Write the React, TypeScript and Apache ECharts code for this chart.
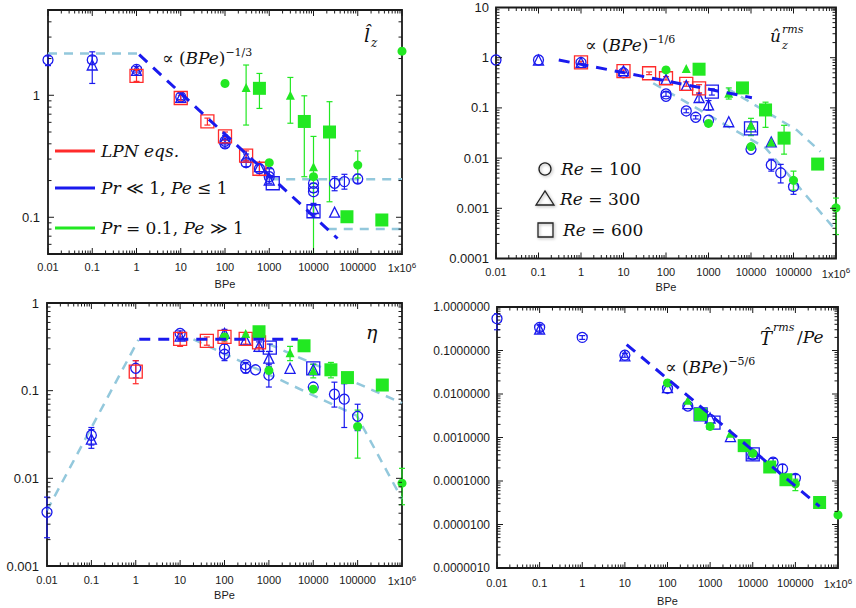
import { useEffect, useRef } from 'react';
import * as echarts from 'echarts';

// ---------------- colours / fonts ----------------
const BLUE = '#1a1aee';
const RED = '#ff2b2b';
const GREEN = '#22e822';
const LIGHT = '#93c8dc';
const INK = '#1a1a1a';
const MATH = '"DejaVu Serif", "Liberation Serif", serif';
const SANS = '"Liberation Sans", Arial, Helvetica, sans-serif';

// ---------------- axis range (BPe) ----------------
const X_MIN = 0.01;
const X_MAX = 1e6;

// ---------------- data rows: [BPe, value, errLow, errHigh] ----------------
// Panel 1: l_z
const lzLpn = [[1, 1.44, 1.3, 1.6], [10, 0.95, 0.9, 1.0], [40, 0.61, 0.57, 0.65], [100, 0.46, 0.43, 0.5], [300, 0.32, 0.29, 0.35], [600, 0.25, 0.22, 0.28]];
const lzRe100 = [[0.01, 1.95, 1.75, 2.1], [0.1, 1.95, 1.8, 2.1], [1, 1.63, 1.55, 1.72], [10, 0.97, 0.92, 1.04], [100, 0.42, null, null], [100, 0.4, 0.37, 0.43], [300, 0.28, 0.26, 0.3], [600, 0.25, 0.23, 0.27], [1000, 0.234, 0.22, 0.25], [1000, 0.215, null, null], [10000, 0.19, null, null], [10000, 0.174, 0.16, 0.19], [10000, 0.162, null, null], [30000, 0.19, 0.165, 0.215], [50000, 0.196, 0.17, 0.225], [100000, 0.206, 0.19, 0.225]];
const lzRe300 = [[0.1, 1.77, 1.25, 2.27], [1, 1.6, null, null], [10, 0.96, null, null], [100, 0.44, 0.41, 0.47], [300, 0.31, 0.29, 0.33], [600, 0.26, null, null], [1000, 0.202, 0.19, 0.215], [10000, 0.118, 0.105, 0.13], [30000, 0.11, null, null]];
const lzRe600 = [[1200, 0.19, null, null], [10000, 0.112, 0.1, 0.125]];
const lzG100 = [[100, 1.25, 1.18, 1.32], [1000, 0.28, null, null], [10000, 0.215, null, null], [100000, 0.268, 0.21, 0.35], [1e6, 2.3, null, null]];
const lzG300 = [[300, 1.16, 0.57, 1.77], [3000, 1.0, 0.59, 1.4], [10000, 0.26, 0.04, 0.46]];
const lzG600 = [[600, 1.14, 0.78, 1.51], [6200, 0.61, 0.215, 0.99], [23000, 0.5, 0.134, 0.886], [57000, 0.101, null, null], [350000, 0.095, null, null]];
const lzPower = [[1.15, 2.15], [35000, 0.067]];
const lzFits = [[[0.01, 2.2], [1.1, 2.2]], [[1050, 0.205], [1e6, 0.205]], [[21000, 0.08], [1e6, 0.08]]];

// Panel 2: u_z rms
const uzLpn = [[1, 0.81, 0.77, 0.85], [10, 0.54, 0.51, 0.57], [40, 0.49, 0.46, 0.52], [100, 0.39, 0.36, 0.42], [300, 0.3, 0.27, 0.33], [600, 0.245, 0.2, 0.29]];
const uzRe100 = [[0.01, 0.9, null, null], [0.1, 0.9, null, null], [1, 0.8, null, null], [10, 0.5, null, null], [100, 0.19, 0.17, 0.21], [100, 0.17, null, null], [300, 0.087, 0.08, 0.095], [500, 0.065, 0.06, 0.07], [1000, 0.057, null, null], [10000, 0.015, null, null], [30000, 0.0073, 0.0055, 0.0095], [50000, 0.0051, 0.0032, 0.0075], [100000, 0.0027, 0.0019, 0.0036]];
const uzRe300 = [[0.1, 0.9, null, null], [1, 0.8, null, null], [10, 0.55, null, null], [100, 0.37, null, null], [300, 0.28, null, null], [600, 0.16, 0.13, 0.19], [1000, 0.115, 0.09, 0.14], [3000, 0.053, null, null], [10000, 0.042, null, null], [30000, 0.021, null, null]];
const uzRe600 = [[1200, 0.21, 0.18, 0.24], [10000, 0.039, null, null]];
const uzG100 = [[100, 0.57, null, null], [1000, 0.049, null, null], [10000, 0.017, null, null], [100000, 0.0036, 0.0023, 0.0055], [1e6, 0.00102, 0.0003, 0.0016]];
const uzG300 = [[300, 0.61, null, null], [3000, 0.195, 0.15, 0.25], [10000, 0.045, 0.028, 0.062], [30000, 0.021, null, null]];
const uzG600 = [[600, 0.59, null, null], [6300, 0.25, null, null], [22000, 0.091, 0.041, 0.13], [60000, 0.025, 0.012, 0.045], [370000, 0.0076, null, null]];
const uzPower = [[0.3, 0.9], [10500, 0.16]];
const uzFits = [[[50, 0.31], [22000, 0.016], [1e6, 0.00036]], [[2750, 0.245], [120000, 0.036], [430000, 0.0135]]];

// Panel 3: eta
const etaLpn = [[1, 0.165, 0.12, 0.22], [10, 0.39, 0.32, 0.45], [40, 0.37, 0.33, 0.41], [100, 0.41, 0.36, 0.45], [300, 0.39, 0.34, 0.44], [600, 0.355, 0.31, 0.4]];
const etaRe100 = [[0.01, 0.0041, 0.0021, 0.0061], [0.1, 0.031, 0.024, 0.038], [1, 0.18, 0.14, 0.22], [10, 0.45, 0.41, 0.48], [100, 0.3, null, null], [100, 0.26, 0.22, 0.34], [300, 0.197, null, null], [300, 0.18, 0.16, 0.21], [500, 0.173, null, null], [1000, 0.15, 0.11, 0.2], [10000, 0.11, null, null], [30000, 0.091, 0.065, 0.125], [50000, 0.08, 0.038, 0.12], [100000, 0.051, 0.035, 0.07]];
const etaRe300 = [[0.1, 0.028, 0.022, 0.036], [10, 0.42, null, null], [100, 0.45, 0.4, 0.5], [300, 0.38, null, null], [600, 0.32, 0.28, 0.36], [1000, 0.235, 0.19, 0.28], [3000, 0.18, null, null], [10000, 0.175, null, null]];
const etaRe600 = [[1050, 0.31, 0.28, 0.34], [10000, 0.18, 0.16, 0.2]];
const etaG100 = [[100, 0.41, null, null], [1000, 0.17, null, null], [10000, 0.104, null, null], [100000, 0.039, 0.017, 0.06], [1e6, 0.0088, 0.005, 0.013]];
const etaG300 = [[300, 0.45, null, null], [3000, 0.27, 0.22, 0.32], [10000, 0.17, 0.14, 0.2]];
const etaG600 = [[600, 0.47, null, null], [6200, 0.325, null, null], [25000, 0.173, 0.14, 0.21], [59000, 0.141, null, null], [360000, 0.116, null, null]];
const etaPower = [[1.2, 0.385], [4500, 0.385]];
const etaFits = [[[0.01, 0.0043], [1.15, 0.38]], [[20, 0.385], [95000, 0.052], [1e6, 0.0058]], [[1000, 0.34], [1e6, 0.072]]];

// Panel 4: T rms / Pe
const tLpn: number[][] = [];
const tRe100 = [[0.01, 0.54, 0.3, 0.7], [0.1, 0.34, 0.28, 0.4], [1, 0.2, 0.18, 0.22], [10, 0.078, 0.07, 0.086], [100, 0.0134, null, null], [300, 0.0053, null, null], [600, 0.0034, null, null], [1000, 0.0026, null, null], [10000, 0.0004, null, null], [30000, 0.00027, 0.00022, 0.00033], [50000, 0.00019, 0.00015, 0.00024], [100000, 0.000115, 0.00009, 0.00014]];
const tRe300 = [[0.1, 0.31, 0.25, 0.38], [10, 0.075, null, null], [100, 0.014, null, null], [300, 0.006, null, null], [1000, 0.0028, null, null], [3000, 0.00105, null, null], [10000, 0.00042, null, null]];
const tRe600 = [[600, 0.0034, null, null], [1200, 0.0022, null, null], [10000, 0.00041, null, null]];
const tG100 = [[100, 0.018, null, null], [1000, 0.0018, null, null], [10000, 0.00043, null, null], [100000, 0.000086, 0.00006, 0.00011], [1e6, 0.0000166, null, null]];
const tG300 = [[300, 0.0072, null, null], [3000, 0.00125, null, null]];
const tG600 = [[600, 0.0034, null, null], [6300, 0.00065, null, null], [25000, 0.00021, null, null], [60000, 0.000107, null, null], [370000, 0.000032, null, null]];
const tPower = [[11, 0.137], [370000, 0.000026]];
const tFits: number[][][] = [];

// ---------------- panel layout ----------------
const panels = [
  { grid: { left: 48, top: 10, width: 354, height: 244 }, yMin: 0.05, yMax: 5, fixed: false, xMargin: 7, nameGap: 24, yMargin: 8, yFont: 13,
    sets: { lpn: lzLpn, r100: lzRe100, r300: lzRe300, r600: lzRe600, g100: lzG100, g300: lzG300, g600: lzG600, power: lzPower, fits: lzFits } },
  { grid: { left: 496, top: 7.5, width: 340, height: 251 }, yMin: 1e-4, yMax: 10, fixed: false, xMargin: 8, nameGap: 23, yMargin: 7, yFont: 13,
    sets: { lpn: uzLpn, r100: uzRe100, r300: uzRe300, r600: uzRe600, g100: uzG100, g300: uzG300, g600: uzG600, power: uzPower, fits: uzFits } },
  { grid: { left: 47, top: 303, width: 355, height: 263 }, yMin: 1e-3, yMax: 1, fixed: false, xMargin: 8, nameGap: 23, yMargin: 8, yFont: 13,
    sets: { lpn: etaLpn, r100: etaRe100, r300: etaRe300, r600: etaRe600, g100: etaG100, g300: etaG300, g600: etaG600, power: etaPower, fits: etaFits } },
  { grid: { left: 497, top: 307, width: 341, height: 261 }, yMin: 1e-6, yMax: 1, fixed: true, xMargin: 9, nameGap: 27, yMargin: 7, yFont: 12,
    sets: { lpn: tLpn, r100: tRe100, r300: tRe300, r600: tRe600, g100: tG100, g300: tG300, g600: tG600, power: tPower, fits: tFits } },
];

const ERR_COLORS = [BLUE, RED, GREEN];

function exponentOf(v: number) {
  const l = Math.log10(v);
  const e = Math.round(l);
  return Math.abs(l - e) < 1e-6 ? e : null;
}
function plainPow(e: number) {
  return e >= 0 ? String(Math.pow(10, e)) : '0.' + '0'.repeat(-e - 1) + '1';
}
function xFmt(v: number) {
  const e = exponentOf(v);
  if (e === null) return '';
  if (e >= 6) return '{b|1x10}{s|' + e + '}';
  return plainPow(e);
}
function yFmt(v: number, fixed: boolean) {
  const e = exponentOf(v);
  if (e === null) return '';
  return fixed ? Math.pow(10, e).toFixed(7) : plainPow(e);
}
function logTicks(min: number, max: number) {
  const out: number[][] = [];
  for (let k = Math.floor(Math.log10(min)) - 1; k <= Math.ceil(Math.log10(max)); k++) {
    for (let m = 1; m <= 9; m++) {
      const v = Number((m * Math.pow(10, k)).toPrecision(10));
      if (v >= min * 0.999999 && v <= max * 1.000001) out.push([v, m === 1 ? 1 : 0]);
    }
  }
  return out;
}

function tickSeries(pi: number, p: any) {
  const data: number[][] = [];
  logTicks(X_MIN, X_MAX).forEach(([v, maj]) => data.push([v, p.yMin, maj, 0]));
  logTicks(p.yMin, p.yMax).forEach(([v, maj]) => data.push([X_MIN, v, maj, 1]));
  return {
    type: 'custom', xAxisIndex: pi, yAxisIndex: pi, silent: true, z: 10, data, encode: { x: 0, y: 1 },
    renderItem: (params: any, api: any) => {
      const cs = params.coordSys;
      const len = api.value(2) ? 6 : 3.5;
      const st = { stroke: INK, lineWidth: 1 };
      if (api.value(3) === 0) {
        const x = api.coord([api.value(0), p.yMin])[0];
        return { type: 'group', children: [
          { type: 'line', shape: { x1: x, y1: cs.y + cs.height, x2: x, y2: cs.y + cs.height - len }, style: st },
          { type: 'line', shape: { x1: x, y1: cs.y, x2: x, y2: cs.y + len }, style: st },
        ] };
      }
      const y = api.coord([X_MIN, api.value(1)])[1];
      return { type: 'group', children: [
        { type: 'line', shape: { x1: cs.x, y1: y, x2: cs.x + len, y2: y }, style: st },
        { type: 'line', shape: { x1: cs.x + cs.width, y1: y, x2: cs.x + cs.width - len, y2: y }, style: st },
      ] };
    },
  };
}

function errSeries(pi: number, groups: any[]) {
  const data: number[][] = [];
  groups.forEach(([rows, ci]) => rows.forEach((r: any[]) => { if (r[2] != null) data.push([r[0], r[2], r[3], ci]); }));
  return {
    type: 'custom', xAxisIndex: pi, yAxisIndex: pi, silent: true, z: 4, data, encode: { x: 0, y: [1, 2] },
    renderItem: (params: any, api: any) => {
      const cs = params.coordSys;
      const lo = api.coord([api.value(0), api.value(1)]);
      const hi = api.coord([api.value(0), api.value(2)]);
      const top = cs.y, bot = cs.y + cs.height;
      const clampY = (y: number) => Math.max(top, Math.min(bot, y));
      const x = lo[0];
      const y1 = clampY(lo[1]);
      const y2 = clampY(hi[1]);
      const color = ERR_COLORS[api.value(3)];
      const st = { stroke: color, lineWidth: 1.2 };
      const children: any[] = [{ type: 'line', shape: { x1: x, y1, x2: x, y2 }, style: st }];
      if (lo[1] <= bot) children.push({ type: 'line', shape: { x1: x - 3, y1, x2: x + 3, y2: y1 }, style: st });
      if (hi[1] >= top) children.push({ type: 'line', shape: { x1: x - 3, y1: y2, x2: x + 3, y2 }, style: st });
      return { type: 'group', children };
    },
  };
}

function markS(pi: number, rows: any[], symbol: string, size: number, color: string, filled: boolean, z: number) {
  return {
    type: 'scatter', xAxisIndex: pi, yAxisIndex: pi, silent: true, z,
    data: rows.map((r) => [r[0], r[1]]), symbol, symbolSize: size,
    itemStyle: filled ? { color, opacity: 1 } : { color: 'rgba(0,0,0,0)', borderColor: color, borderWidth: 1.3, opacity: 1 },
  };
}

function lineS(pi: number, data: number[][], color: string, width: number, dash: number[], z: number) {
  return { type: 'line', xAxisIndex: pi, yAxisIndex: pi, data, symbol: 'none', silent: true, z, lineStyle: { color, width, type: dash } };
}

function panelSeries(pi: number, p: any) {
  const s = p.sets;
  const out: any[] = [];
  s.fits.forEach((f: number[][]) => out.push(lineS(pi, f, LIGHT, 2.5, [9, 7], 2)));
  out.push(errSeries(pi, [[s.r100, 0], [s.r300, 0], [s.r600, 0], [s.lpn, 1], [s.g100, 2], [s.g300, 2], [s.g600, 2]]));
  out.push(markS(pi, s.r100, 'circle', 10, BLUE, false, 5));
  out.push(markS(pi, s.r300, 'triangle', 10, BLUE, false, 5));
  out.push(markS(pi, s.r600, 'rect', 13, BLUE, false, 5));
  out.push(markS(pi, s.lpn, 'rect', 13, RED, false, 6));
  out.push(markS(pi, s.g100, 'circle', 9, GREEN, true, 7));
  out.push(markS(pi, s.g300, 'triangle', 9, GREEN, true, 7));
  out.push(markS(pi, s.g600, 'rect', 13, GREEN, true, 7));
  out.push(lineS(pi, s.power, BLUE, 3, [11, 8], 8));
  out.push(tickSeries(pi, p));
  return out;
}

// ---------------- annotation text styles ----------------
const RICH = {
  i: { fontFamily: MATH, fontStyle: 'italic', fontSize: 17, fill: '#111', lineHeight: 22 },
  n: { fontFamily: MATH, fontSize: 17, fill: '#111', lineHeight: 22 },
  s: { fontFamily: MATH, fontSize: 11, fill: '#111', lineHeight: 11, verticalAlign: 'top' },
};
function rt(x: number, y: number, text: string, extra: any = {}) {
  return { type: 'text', x, y, z: 100, style: { text, rich: RICH, verticalAlign: 'middle', align: 'left', ...extra } };
}
function plainT(x: number, y: number, text: string, size: number, italic: boolean) {
  return { type: 'text', x, y, z: 100, style: { text, fontFamily: MATH, fontStyle: italic ? 'italic' : 'normal', fontSize: size, fill: '#111', verticalAlign: 'middle', align: 'left' } };
}

const legendShadow = { shadowBlur: 3, shadowColor: 'rgba(0,0,0,0.35)', shadowOffsetX: 1, shadowOffsetY: 1 };

const graphics = [
  // panel 1
  rt(162, 58, '{n|∝ (}{i|BPe}{n|)}{s|−1/3}'),
  plainT(364, 35, 'l\u0302', 19, true),
  plainT(371, 43, 'z', 12, true),
  { type: 'line', z: 100, shape: { x1: 55, y1: 151, x2: 95, y2: 151 }, style: { stroke: RED, lineWidth: 3 } },
  { type: 'line', z: 100, shape: { x1: 55, y1: 188, x2: 95, y2: 188 }, style: { stroke: BLUE, lineWidth: 3 } },
  { type: 'line', z: 100, shape: { x1: 55, y1: 228, x2: 95, y2: 228 }, style: { stroke: GREEN, lineWidth: 3 } },
  rt(101, 151, '{i|LPN eqs.}'),
  rt(101, 188, '{i|Pr}{n| ≪ 1, }{i|Pe}{n| ≤ 1}'),
  rt(101, 228, '{i|Pr}{n| = 0.1, }{i|Pe}{n| ≫ 1}'),
  // panel 2
  rt(585, 45, '{n|∝ (}{i|BPe}{n|)}{s|−1/6}'),
  plainT(770, 36, 'û', 17, true),
  plainT(782, 45, 'z', 11, true),
  plainT(782, 29, 'rms', 11, true),
  { type: 'circle', z: 100, shape: { cx: 545, cy: 169, r: 6 }, style: { fill: 'none', stroke: '#222', lineWidth: 1.3, ...legendShadow } },
  { type: 'polygon', z: 100, shape: { points: [[536, 205], [554, 205], [545, 191]] }, style: { fill: 'none', stroke: '#222', lineWidth: 1.3, ...legendShadow } },
  { type: 'rect', z: 100, shape: { x: 538, y: 223, width: 15, height: 14 }, style: { fill: 'none', stroke: '#222', lineWidth: 1.3, ...legendShadow } },
  rt(561, 169, '{i|Re}{n| = 100}'),
  rt(560, 199, '{i|Re}{n| = 300}'),
  rt(563, 230, '{i|Re}{n| = 600}'),
  // panel 3
  plainT(366, 332, 'η', 19, true),
  // panel 4
  plainT(760, 338, 'T\u0302', 18, true),
  plainT(773, 327, 'rms', 11, true),
  rt(797, 337, '{n|/}{i|Pe}'),
  rt(665, 367, '{n|∝ (}{i|BPe}{n|)}{s|−5/6}'),
];

export default function App() {
  const ref = useRef<HTMLDivElement>(null);
  useEffect(() => {
    if (!ref.current) return;
    const chart = echarts.init(ref.current, undefined, { renderer: 'svg' });
    const series: any[] = [];
    panels.forEach((p, i) => series.push(...panelSeries(i, p)));
    chart.setOption({
      animation: false,
      backgroundColor: '#ffffff',
      grid: panels.map((p) => ({ ...p.grid, show: true, borderColor: INK, borderWidth: 1.8, backgroundColor: 'transparent' })),
      xAxis: panels.map((p, i) => ({
        type: 'log', logBase: 10, gridIndex: i, min: X_MIN, max: X_MAX,
        name: 'BPe', nameLocation: 'middle', nameGap: p.nameGap,
        nameTextStyle: { fontFamily: SANS, fontSize: 11, color: INK },
        axisLine: { show: false }, axisTick: { show: false }, splitLine: { show: false }, minorTick: { show: false },
        axisLabel: {
          margin: p.xMargin, fontFamily: SANS, fontSize: 11, color: INK, formatter: xFmt,
          rich: {
            b: { fontFamily: SANS, fontSize: 11, color: INK, lineHeight: 14 },
            s: { fontFamily: SANS, fontSize: 8, color: INK, lineHeight: 8, verticalAlign: 'top' },
          },
        },
      })),
      yAxis: panels.map((p, i) => ({
        type: 'log', logBase: 10, gridIndex: i, min: p.yMin, max: p.yMax,
        axisLine: { show: false }, axisTick: { show: false }, splitLine: { show: false },
        axisLabel: { margin: p.yMargin, fontFamily: SANS, fontSize: p.yFont, color: INK, formatter: (v: number) => yFmt(v, p.fixed) },
      })),
      series,
      graphic: graphics,
    });
    return () => chart.dispose();
  }, []);
  return <div ref={ref} style={{ position: 'fixed', left: 0, top: 0, width: 856, height: 608 }} />;
}
